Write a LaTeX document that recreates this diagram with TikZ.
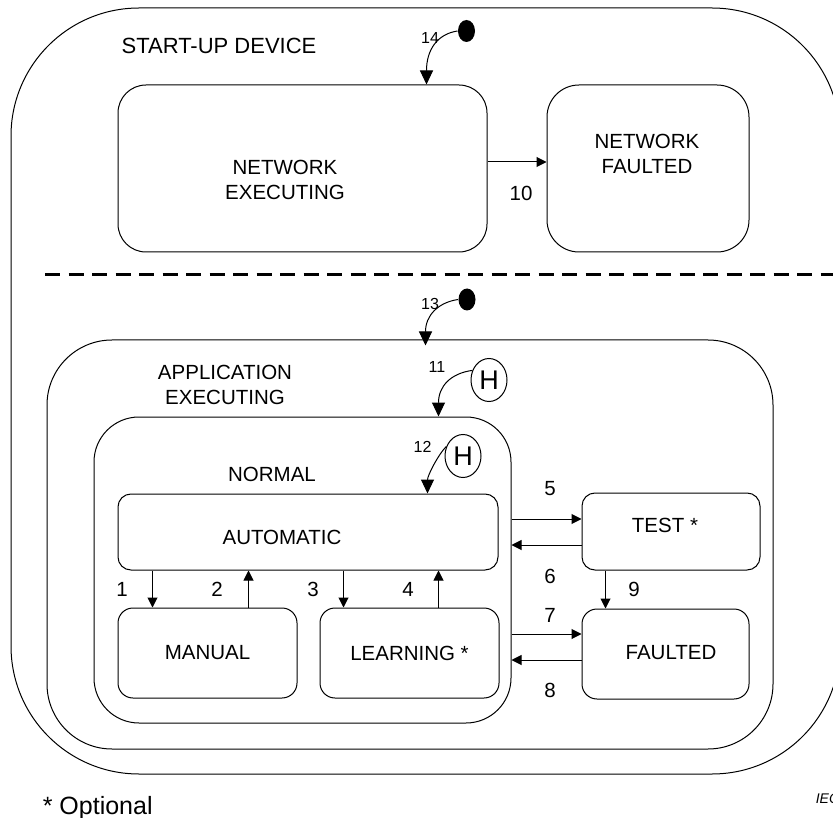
\documentclass[tikz,border=0pt]{standalone}
\usepackage{fontspec}
\setmainfont{Liberation Sans}
\usetikzlibrary{arrows.meta,shapes.geometric}
\newcommand\stfont{\fontsize{20.5pt}{25pt}\selectfont}
\newcommand\bigtitlefont{\fontsize{22pt}{26pt}\selectfont}
\newcommand\smallnum{\fontsize{16pt}{19pt}\selectfont}
\newcommand\histfont{\fontsize{27pt}{30pt}\selectfont}
\newcommand\notefont{\fontsize{25pt}{30pt}\selectfont}

\begin{document}
\begin{tikzpicture}[x=1pt, y=-1pt, line width=1pt,
	region/.style={draw, rounded corners=#1, inner sep=0pt},
	state/.style={draw, rounded corners=#1, inner sep=0pt, font=\stfont, align=center},
	title/.style={font=\stfont, align=center},
	num/.style={font=\stfont},
	smallnum/.style={font=\smallnum},
	hist/.style={draw, ellipse, inner sep=0pt, minimum width=36pt, minimum height=43pt, font=\histfont},
	initdot/.style={fill, ellipse, inner sep=0pt, minimum width=17pt, minimum height=22pt},
	tr/.style={-{Triangle[length=10pt,width=10pt]}},
	entry/.style={-{Triangle[length=14pt,width=13pt]}},
	every label/.append style={font=\stfont, align=center}]
	\clip (0,0) rectangle (833,818);
	\node[region=128pt, minimum width=829pt, minimum height=766pt] (startup) at (425.5,391) {};
	\node[title, font=\bigtitlefont] (startuptitle) at (219,46) {START-UP DEVICE};
	\node[state=28pt, minimum width=369pt, minimum height=167pt,
		label={[xshift=-17.5pt,yshift=-11.5pt]center:NETWORK\\EXECUTING}] (netexec) at (302.5,168.5) {};
	\node[state=32pt, minimum width=202pt, minimum height=167pt,
		label={[xshift=-1pt,yshift=14.5pt]center:NETWORK\\FAULTED}] (netfault) at (648,168.5) {};
	\draw[dashed, line width=3pt, dash pattern=on 15pt off 8.5pt] (45,275) -- (833,275);
	\node[region=65pt, minimum width=726pt, minimum height=409pt] (app) at (410,544.5) {};
	\node[title] (apptitle) at (225,384.5) {APPLICATION\\EXECUTING};
	\node[region=45pt, minimum width=417pt, minimum height=306pt] (normal) at (302.5,570) {};
	\node[title] (normaltitle) at (272,474) {NORMAL};
	\node[state=13pt, minimum width=380pt, minimum height=76pt,
		label={[xshift=-26pt,yshift=-5pt]center:AUTOMATIC}] (automatic) at (308,532) {};
	\node[state=15pt, minimum width=179pt, minimum height=90pt] (manual) at (207.5,653) {MANUAL};
	\node[state=15pt, minimum width=179pt, minimum height=90pt] (learning) at (409.5,653) {LEARNING *};
	\node[state=13pt, minimum width=178pt, minimum height=77pt,
		label={[xshift=-6pt,yshift=6.5pt]center:TEST *}] (test) at (671,531.5) {};
	\node[state=15pt, minimum width=167pt, minimum height=90pt,
		label={[xshift=5.5pt,yshift=1pt]center:FAULTED}] (faulted) at (665.5,654) {};
	\node[initdot] (init14) at (466.5,31) {};
	\node[initdot] (init13) at (467,299.5) {};
	\node[hist] (hist11) at (489,380) {H};
	\node[hist] (hist12) at (463,456) {H};
	\node[smallnum] (n14) at (430,38) {14};
	\node[smallnum] (n13) at (430,304) {13};
	\node[smallnum] (n11) at (437,367) {11};
	\node[smallnum] (n12) at (422.5,447) {12};
	\node[num] (n1) at (122,589) {1};
	\node[num] (n2) at (217,589) {2};
	\node[num] (n3) at (313,589) {3};
	\node[num] (n4) at (408,589) {4};
	\node[num] (n5) at (550,489) {5};
	\node[num] (n6) at (550,576) {6};
	\node[num] (n7) at (550,615) {7};
	\node[num] (n8) at (550,690) {8};
	\node[num] (n9) at (634,589) {9};
	\node[num] (n10) at (521,193) {10};
	\draw[entry] (init14.west) .. controls +(-20,3) and +(0,-35) .. ([xshift=309pt]netexec.north west);
	\draw[entry] (init13.west) .. controls +(-20,3) and +(0,-30) .. ([xshift=379pt,yshift=-6pt]app.north west);
	\draw[entry] (hist11.150) .. controls +(-22,3) and +(0,-30) .. ([xshift=345pt]normal.north west);
	\draw[entry] (hist12.150) .. controls +(-8,8) and +(0,-18) .. ([xshift=310pt]automatic.north west);
	\draw[tr] (netexec.east |- 0,162) -- (netfault.west |- 0,162);
	\draw[tr] ([xshift=35pt]automatic.south west) -- ([xshift=35pt]manual.north west);
	\draw[tr] ([xshift=131pt]manual.north west) -- ([xshift=131pt]automatic.south west);
	\draw[tr] ([xshift=226pt]automatic.south west) -- ([xshift=24pt]learning.north west);
	\draw[tr] ([xshift=119pt]learning.north west) -- ([xshift=321pt]automatic.south west);
	\draw[tr] (normal.east |- 0,519) -- (test.west |- 0,519);
	\draw[tr] (test.west |- 0,545) -- (normal.east |- 0,545);
	\draw[tr] (normal.east |- 0,634) -- (faulted.west |- 0,634);
	\draw[tr] (faulted.west |- 0,660) -- (normal.east |- 0,660);
	\draw[tr] ([xshift=24pt]test.south west) -- ([xshift=24pt]faulted.north west);
	\node[font=\notefont, anchor=base west] (note) at (39,814) {* Optional};
	\node[font=\fontsize{14pt}{16pt}\selectfont\itshape, anchor=base west] (iec) at (812,803) {IEC};
\end{tikzpicture}
\end{document}
